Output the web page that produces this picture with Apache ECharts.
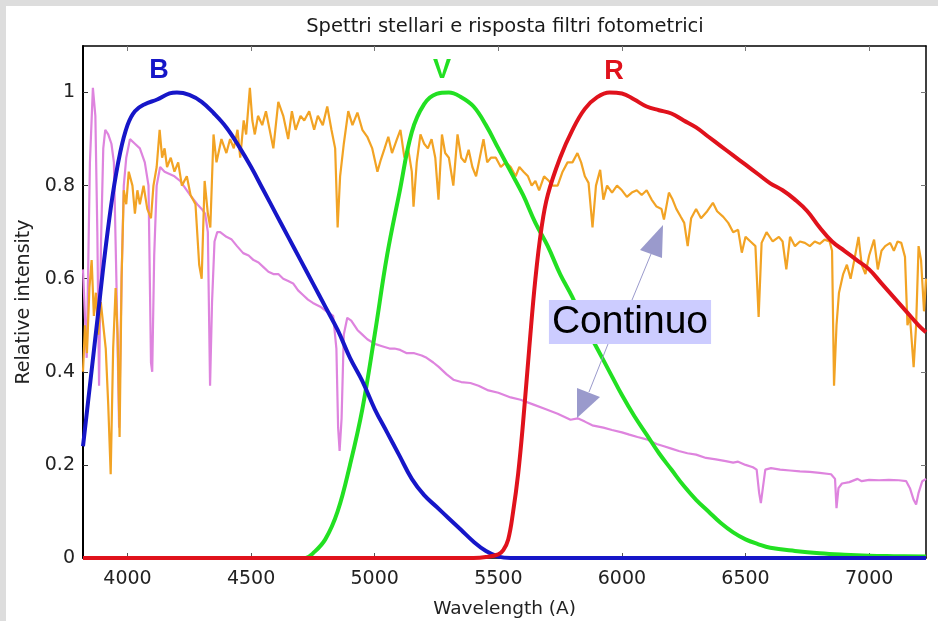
<!DOCTYPE html>
<html>
<head>
<meta charset="utf-8">
<script src="https://cdn.jsdelivr.net/npm/echarts@6/dist/echarts.min.js"></script>
<style>
html,body{margin:0;padding:0;background:#dddddd;}
#c{width:938px;height:621px;}
</style>
</head>
<body>
<div id="c"></div>
<script>
// ---- data: [wavelength (A), relative intensity] ----
const xTicks = [4000, 4500, 5000, 5500, 6000, 6500, 7000];
const yTicks = [0, 0.2, 0.4, 0.6, 0.8, 1];

const blueFilter = [
  [3820,0.24],[3850,0.38],[3880,0.52],[3910,0.66],[3940,0.78],[3970,0.87],[4000,0.93],[4030,0.96],
  [4070,0.975],[4120,0.985],[4170,0.998],[4200,1.0],[4250,0.995],[4300,0.98],[4350,0.955],[4400,0.925],
  [4450,0.885],[4500,0.84],[4550,0.79],[4600,0.74],[4650,0.69],[4700,0.64],[4750,0.59],[4800,0.54],
  [4850,0.49],[4900,0.43],[4950,0.38],[5000,0.32],[5050,0.27],[5100,0.22],[5150,0.17],[5200,0.135],
  [5250,0.11],[5300,0.085],[5350,0.06],[5400,0.035],[5450,0.015],[5500,0.003],[5550,0],[6000,0],
  [6500,0],[7000,0],[7230,0]
];
const greenFilter = [
  [4700,0],[4720,0],[4750,0.01],[4800,0.04],[4850,0.10],[4900,0.2],[4950,0.32],[5000,0.48],
  [5050,0.65],[5100,0.785],[5150,0.915],[5200,0.975],[5250,0.997],[5300,1.0],[5350,0.99],[5400,0.97],
  [5450,0.93],[5500,0.88],[5550,0.83],[5600,0.78],[5650,0.72],[5700,0.67],[5750,0.61],[5800,0.56],
  [5850,0.50],[5900,0.45],[5950,0.40],[6000,0.35],[6050,0.305],[6100,0.265],[6150,0.225],[6200,0.19],
  [6250,0.155],[6300,0.125],[6350,0.1],[6400,0.075],[6450,0.055],[6500,0.04],[6550,0.03],[6600,0.022],
  [6700,0.015],[6800,0.01],[6900,0.007],[7000,0.005],[7100,0.004],[7230,0.003]
];
const redFilter = [
  [3820,0],[4300,0],[4800,0],[5300,0],[5400,0],[5450,0.002],[5500,0.008],[5520,0.017],[5540,0.04],
  [5560,0.1],[5580,0.18],[5600,0.29],[5625,0.45],[5650,0.6],[5675,0.71],[5700,0.78],[5750,0.86],
  [5800,0.92],[5850,0.965],[5900,0.99],[5950,1.0],[6000,0.998],[6050,0.985],[6100,0.97],[6150,0.962],
  [6200,0.955],[6250,0.94],[6300,0.925],[6350,0.905],[6400,0.885],[6450,0.865],[6500,0.845],[6550,0.825],
  [6600,0.805],[6650,0.79],[6700,0.77],[6750,0.745],[6800,0.71],[6850,0.68],[6900,0.66],[6950,0.64],
  [7000,0.62],[7050,0.59],[7100,0.56],[7150,0.53],[7200,0.5],[7230,0.485]
];
const coolStar = [
  [3820,0.40],[3828,0.50],[3836,0.44],[3846,0.58],[3855,0.64],[3864,0.52],[3872,0.57],[3882,0.48],
  [3892,0.55],[3902,0.50],[3912,0.45],[3922,0.33],[3932,0.18],[3942,0.45],[3952,0.58],[3960,0.48],
  [3968,0.26],[3976,0.60],[3985,0.79],[3995,0.76],[4005,0.83],[4020,0.80],[4030,0.74],[4040,0.79],
  [4050,0.76],[4065,0.80],[4080,0.75],[4095,0.73],[4105,0.80],[4118,0.84],[4130,0.92],[4140,0.86],
  [4150,0.88],[4160,0.84],[4175,0.86],[4190,0.83],[4205,0.85],[4220,0.80],[4240,0.82],[4255,0.78],
  [4275,0.76],[4290,0.63],[4300,0.60],[4312,0.81],[4325,0.74],[4335,0.71],[4348,0.91],[4360,0.85],
  [4380,0.90],[4400,0.87],[4415,0.90],[4430,0.88],[4445,0.92],[4456,0.86],[4470,0.94],[4480,0.91],
  [4495,1.01],[4505,0.94],[4515,0.91],[4528,0.95],[4545,0.93],[4560,0.96],[4575,0.92],[4590,0.88],
  [4610,0.98],[4630,0.95],[4650,0.90],[4665,0.96],[4680,0.92],[4700,0.95],[4715,0.94],[4735,0.96],
  [4755,0.92],[4770,0.95],[4790,0.93],[4808,0.97],[4825,0.92],[4840,0.88],[4850,0.71],[4860,0.82],
  [4875,0.89],[4893,0.96],[4910,0.93],[4930,0.957],[4950,0.92],[4970,0.905],[4990,0.88],[5011,0.83],
  [5025,0.856],[5040,0.88],[5055,0.905],[5070,0.87],[5090,0.90],[5104,0.92],[5120,0.86],[5135,0.88],
  [5150,0.83],[5157,0.755],[5170,0.85],[5185,0.91],[5200,0.89],[5215,0.88],[5230,0.90],[5245,0.86],
  [5258,0.77],[5272,0.91],[5285,0.87],[5300,0.86],[5318,0.80],[5335,0.91],[5350,0.86],[5365,0.85],
  [5380,0.877],[5395,0.84],[5410,0.82],[5425,0.86],[5440,0.90],[5455,0.85],[5470,0.86],[5490,0.86],
  [5510,0.84],[5530,0.85],[5550,0.84],[5570,0.82],[5585,0.84],[5602,0.83],[5620,0.82],[5635,0.80],
  [5650,0.81],[5665,0.79],[5685,0.82],[5705,0.81],[5720,0.80],[5740,0.80],[5760,0.83],[5780,0.85],
  [5800,0.85],[5820,0.87],[5835,0.85],[5850,0.82],[5865,0.806],[5881,0.71],[5895,0.80],[5912,0.834],
  [5925,0.77],[5940,0.80],[5960,0.785],[5980,0.80],[6000,0.79],[6020,0.776],[6040,0.785],[6060,0.79],
  [6080,0.78],[6100,0.79],[6120,0.77],[6140,0.755],[6160,0.75],[6170,0.727],[6190,0.785],[6205,0.77],
  [6220,0.75],[6238,0.733],[6252,0.72],[6266,0.67],[6280,0.73],[6300,0.75],[6320,0.73],[6345,0.745],
  [6368,0.763],[6385,0.745],[6410,0.733],[6430,0.72],[6450,0.70],[6470,0.705],[6485,0.656],[6500,0.69],
  [6520,0.68],[6540,0.67],[6553,0.518],[6565,0.677],[6585,0.70],[6610,0.68],[6635,0.69],[6650,0.68],
  [6665,0.62],[6680,0.69],[6700,0.67],[6720,0.68],[6740,0.677],[6760,0.67],[6780,0.68],[6800,0.675],
  [6820,0.684],[6840,0.68],[6850,0.66],[6858,0.37],[6868,0.50],[6878,0.57],[6895,0.61],[6910,0.63],
  [6925,0.60],[6940,0.64],[6957,0.69],[6970,0.63],[6985,0.61],[7000,0.65],[7020,0.684],[7035,0.62],
  [7050,0.66],[7065,0.67],[7085,0.677],[7100,0.66],[7115,0.68],[7130,0.677],[7145,0.647],[7155,0.50],
  [7165,0.52],[7180,0.41],[7190,0.50],[7200,0.67],[7210,0.64],[7222,0.53],[7230,0.60]
];
const hotStar = [
  [3820,0.62],[3835,0.43],[3848,0.85],[3860,1.01],[3870,0.95],[3878,0.70],[3885,0.37],[3893,0.68],
  [3902,0.88],[3910,0.92],[3922,0.91],[3935,0.89],[3945,0.85],[3955,0.60],[3966,0.28],[3976,0.60],
  [3985,0.80],[3995,0.86],[4010,0.90],[4030,0.89],[4050,0.88],[4070,0.85],[4085,0.80],[4095,0.42],
  [4100,0.40],[4108,0.65],[4118,0.80],[4132,0.84],[4150,0.83],[4170,0.825],[4190,0.82],[4213,0.81],
  [4240,0.79],[4260,0.775],[4282,0.76],[4300,0.75],[4314,0.74],[4325,0.70],[4334,0.37],[4342,0.55],
  [4352,0.68],[4363,0.70],[4375,0.70],[4400,0.69],[4420,0.685],[4443,0.67],[4468,0.655],[4490,0.65],
  [4510,0.64],[4530,0.635],[4550,0.625],[4570,0.615],[4590,0.61],[4610,0.61],[4630,0.60],[4650,0.595],
  [4670,0.59],[4690,0.575],[4710,0.565],[4730,0.555],[4750,0.548],[4780,0.54],[4805,0.53],[4832,0.52],
  [4845,0.45],[4852,0.28],[4858,0.23],[4866,0.30],[4875,0.48],[4889,0.516],[4905,0.51],[4930,0.49],
  [4950,0.48],[4970,0.47],[5000,0.46],[5030,0.455],[5060,0.45],[5080,0.45],[5103,0.447],[5130,0.44],
  [5160,0.44],[5190,0.435],[5210,0.43],[5237,0.42],[5260,0.41],[5290,0.395],[5318,0.383],[5350,0.378],
  [5387,0.376],[5420,0.37],[5460,0.36],[5500,0.355],[5550,0.345],[5590,0.34],[5640,0.33],[5690,0.32],
  [5740,0.31],[5792,0.297],[5821,0.30],[5850,0.293],[5880,0.285],[5925,0.28],[5960,0.275],[6000,0.27],
  [6030,0.265],[6063,0.26],[6100,0.255],[6140,0.245],[6170,0.24],[6200,0.235],[6230,0.23],[6265,0.225],
  [6300,0.222],[6340,0.215],[6380,0.212],[6420,0.208],[6450,0.205],[6470,0.207],[6500,0.2],[6530,0.195],
  [6545,0.19],[6555,0.14],[6562,0.118],[6570,0.15],[6580,0.19],[6603,0.193],[6640,0.19],[6680,0.188],
  [6720,0.186],[6760,0.185],[6800,0.183],[6846,0.18],[6862,0.17],[6868,0.107],[6876,0.15],[6890,0.16],
  [6920,0.163],[6953,0.17],[6970,0.165],[7000,0.168],[7040,0.167],[7080,0.168],[7120,0.167],[7150,0.165],
  [7165,0.15],[7180,0.125],[7190,0.115],[7200,0.14],[7215,0.165],[7230,0.17]
];

const chart = echarts.init(document.getElementById('c'), null, {renderer: 'canvas'});
const FONT = 'DejaVu Sans';
const axisCommon = {
  type: 'value', min: 3820, max: 7230,
  axisLine: {show: true, onZero: false, lineStyle: {color: '#000', width: 1.5}},
  splitLine: {show: false}
};
chart.setOption({
  animation: false,
  backgroundColor: 'transparent',
  title: {
    text: 'Spettri stellari e risposta filtri fotometrici',
    left: 505, top: 17, textAlign: 'center', padding: 0,
    textStyle: {fontFamily: FONT, fontSize: 19.5, fontWeight: 'normal', color: '#1a1a1a'}
  },
  grid: {left: 83, right: 12, top: 46, bottom: 63, show: false, outerBoundsMode: 'none', containLabel: false},
  xAxis: [
    Object.assign({}, axisCommon, {
      position: 'bottom',
      name: 'Wavelength (A)', nameLocation: 'middle', nameGap: 42,
      nameTextStyle: {fontFamily: FONT, fontSize: 18.5, color: '#222'},
      axisTick: {show: true, inside: true, length: 5, lineStyle: {color: '#555'},
        customValues: xTicks},
      axisLabel: {fontFamily: FONT, fontSize: 19, color: '#222', margin: 12,
        customValues: xTicks, formatter: function (v) { return String(v); }}
    }),
    Object.assign({}, axisCommon, {
      position: 'top',
      axisTick: {show: true, inside: true, length: 5, lineStyle: {color: '#777'}, customValues: xTicks},
      axisLabel: {show: false}
    })
  ],
  yAxis: [
    {
      type: 'value', min: 0, max: 1.1, position: 'left',
      name: 'Relative intensity', nameLocation: 'middle', nameGap: 48,
      nameTextStyle: {fontFamily: FONT, fontSize: 19, color: '#222'},
      axisLine: {show: true, onZero: false, lineStyle: {color: '#000', width: 2}},
      axisTick: {show: true, inside: true, length: 5, lineStyle: {color: '#333'}, customValues: yTicks},
      axisLabel: {fontFamily: FONT, fontSize: 19, color: '#222', margin: 8, customValues: yTicks},
      splitLine: {show: false}
    },
    {
      type: 'value', min: 0, max: 1.1, position: 'right',
      axisLine: {show: true, onZero: false, lineStyle: {color: '#000', width: 1.5}},
      axisTick: {show: true, inside: true, length: 5, lineStyle: {color: '#777'}, customValues: yTicks},
      axisLabel: {show: false},
      splitLine: {show: false}
    }
  ],
  series: [
    {name: 'hot', type: 'line', data: hotStar, showSymbol: false, symbol: 'none',
      lineStyle: {color: '#de84de', width: 2.2}, z: 2},
    {name: 'cool', type: 'line', data: coolStar, showSymbol: false, symbol: 'none',
      lineStyle: {color: '#f2a324', width: 2.2}, z: 3},
    {name: 'V', type: 'line', data: greenFilter, smooth: 0.4, showSymbol: false, symbol: 'none',
      lineStyle: {color: '#22e022', width: 4}, z: 4},
    {name: 'B', type: 'line', data: blueFilter, smooth: 0.4, showSymbol: false, symbol: 'none',
      lineStyle: {color: '#1616c8', width: 4}, z: 5},
    {name: 'R', type: 'line', data: redFilter, smooth: 0.4, showSymbol: false, symbol: 'none',
      lineStyle: {color: '#e0121c', width: 4}, z: 6}
  ],
  graphic: [
    {type: 'rect', shape: {x: 6, y: 6, width: 932, height: 615}, style: {fill: '#fff'}, z: -10, silent: true},
    {type: 'text', x: 159, y: 71, z: 10, style: {text: 'B', fill: '#1616c8', font: 'bold 27px "Liberation Sans"', align: 'center', verticalAlign: 'middle'}},
    {type: 'text', x: 442, y: 71, z: 10, style: {text: 'V', fill: '#22e022', font: 'bold 27px "Liberation Sans"', align: 'center', verticalAlign: 'middle'}},
    {type: 'text', x: 614, y: 72, z: 10, style: {text: 'R', fill: '#e0121c', font: 'bold 27px "Liberation Sans"', align: 'center', verticalAlign: 'middle'}},
    {type: 'line', z: 10, shape: {x1: 632, y1: 300, x2: 651, y2: 254}, style: {stroke: '#9a9acc', lineWidth: 1}},
    {type: 'polygon', z: 10, shape: {points: [[663, 225], [640, 250], [662, 258]]}, style: {fill: '#9a9acc'}},
    {type: 'line', z: 10, shape: {x1: 608, y1: 344, x2: 589, y2: 392}, style: {stroke: '#9a9acc', lineWidth: 1}},
    {type: 'polygon', z: 10, shape: {points: [[577, 418], [577, 388], [600, 397]]}, style: {fill: '#9a9acc'}},
    {type: 'text', x: 630, y: 322, z: 11, style: {text: 'Continuo', fill: '#000', font: '39px "Liberation Sans"',
      align: 'center', verticalAlign: 'middle', backgroundColor: '#ccccff', padding: [3, 3, 2, 3]}}
  ]
});
</script>
</body>
</html>
